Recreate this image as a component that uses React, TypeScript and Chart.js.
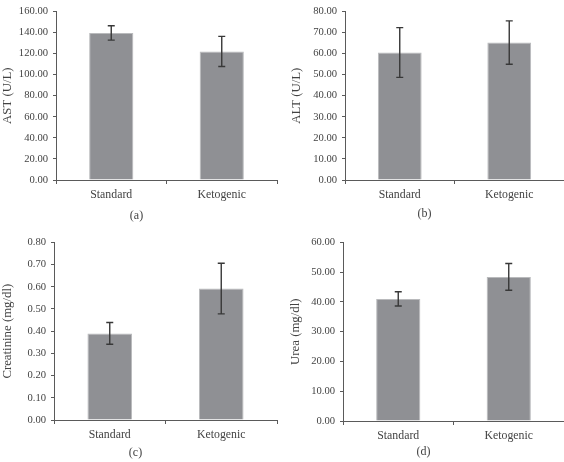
import React, { useEffect, useRef } from "react";
import { Chart, registerables } from "chart.js";

Chart.register(...registerables);

const categories = ["Standard", "Ketogenic"];

const astValues = [139.5, 122.0];
const astErrors = [6.8, 14.3];
const altValues = [60.5, 65.2];
const altErrors = [11.8, 10.3];
const creatinineValues = [0.39, 0.592];
const creatinineErrors = [0.049, 0.114];
const ureaValues = [41.0, 48.4];
const ureaErrors = [2.4, 4.5];

const astTicks = [0, 20, 40, 60, 80, 100, 120, 140, 160];
const altTicks = [0, 10, 20, 30, 40, 50, 60, 70, 80];
const creatinineTicks = [0, 0.1, 0.2, 0.3, 0.4, 0.5, 0.6, 0.7, 0.8];
const ureaTicks = [0, 10, 20, 30, 40, 50, 60];

const FONT = "'Liberation Serif', 'Times New Roman', serif";
const TEXT = "#434343";
const AXIS = "#5a5a5a";
const BAR = "#8f9094";
const BAR_EDGE = "#b9babc";
const ERR = "#383838";

type PanelCfg = {
  label: string;
  yTitle: string;
  values: number[];
  errors: number[];
  ticks: number[];
  left: number;
  top: number;
  areaLeft: number;
  areaTop: number;
  areaBottom: number;
  padRight: number;
  titlePad: number;
  labelOffset: number;
};

const W = 282;
const H = 231;

const panels: PanelCfg[] = [
  { label: "(a)", yTitle: "AST (U/L)", values: astValues, errors: astErrors, ticks: astTicks, left: 0, top: 0, areaLeft: 56, areaTop: 5, areaBottom: 180, padRight: 5, titlePad: 0, labelOffset: 36 },
  { label: "(b)", yTitle: "ALT (U/L)", values: altValues, errors: altErrors, ticks: altTicks, left: 282, top: 0, areaLeft: 63, areaTop: 5, areaBottom: 180, padRight: 0, titlePad: 7, labelOffset: 34 },
  { label: "(c)", yTitle: "Creatinine (mg/dl)", values: creatinineValues, errors: creatinineErrors, ticks: creatinineTicks, left: 0, top: 231, areaLeft: 54, areaTop: 5, areaBottom: 189, padRight: 5, titlePad: 0, labelOffset: 33 },
  { label: "(d)", yTitle: "Urea (mg/dl)", values: ureaValues, errors: ureaErrors, ticks: ureaTicks, left: 282, top: 231, areaLeft: 61, areaTop: 9, areaBottom: 190, padRight: 0, titlePad: 6, labelOffset: 31 },
];

function Panel({ cfg }: { cfg: PanelCfg }) {
  const ref = useRef<HTMLCanvasElement | null>(null);
  useEffect(() => {
    if (!ref.current) return;
    const step = cfg.ticks[1] - cfg.ticks[0];
    const errorBars = {
      id: "errorBars",
      afterDatasetsDraw(chart: any) {
        const ctx = chart.ctx;
        const meta = chart.getDatasetMeta(0);
        const y = chart.scales.y;
        ctx.save();
        ctx.strokeStyle = ERR;
        ctx.lineWidth = 1.4;
        meta.data.forEach((bar: any, i: number) => {
          const v = cfg.values[i];
          const e = cfg.errors[i];
          const yTop = y.getPixelForValue(v + e);
          const yBot = y.getPixelForValue(v - e);
          const x = bar.x;
          ctx.beginPath();
          ctx.moveTo(x, yTop);
          ctx.lineTo(x, yBot);
          ctx.moveTo(x - 3.5, yTop);
          ctx.lineTo(x + 3.5, yTop);
          ctx.moveTo(x - 3.5, yBot);
          ctx.lineTo(x + 3.5, yBot);
          ctx.stroke();
        });
        ctx.restore();
      },
    };
    const panelLabel = {
      id: "panelLabel",
      afterDraw(chart: any) {
        const ctx = chart.ctx;
        const a = chart.chartArea;
        ctx.save();
        ctx.fillStyle = TEXT;
        ctx.font = `12px ${FONT}`;
        ctx.textAlign = "center";
        ctx.textBaseline = "middle";
        ctx.fillText(cfg.label, (a.left + a.right) / 2 - 30, a.bottom + cfg.labelOffset);
        ctx.restore();
      },
    };
    const chart = new Chart(ref.current, {
      type: "bar",
      data: {
        labels: categories,
        datasets: [
          {
            data: cfg.values,
            backgroundColor: BAR,
            borderColor: BAR_EDGE,
            borderWidth: 1,
            barPercentage: 0.4,
            categoryPercentage: 1,
          },
        ],
      },
      options: {
        responsive: false,
        animation: false,
        devicePixelRatio: 1,
        layout: { padding: { top: cfg.areaTop, right: cfg.padRight, left: 0, bottom: 0 } },
        plugins: { legend: { display: false }, tooltip: { enabled: false } },
        scales: {
          x: {
            grid: { display: true, drawOnChartArea: false, drawTicks: true, tickLength: 4, color: AXIS, offset: true, lineWidth: 1 },
            border: { display: true, color: AXIS, width: 1 },
            ticks: { color: TEXT, font: { family: FONT, size: 11.8 }, padding: 4, maxRotation: 0 },
            afterFit: (s: any) => {
              s.height = H - cfg.areaBottom;
            },
          },
          y: {
            min: cfg.ticks[0],
            max: cfg.ticks[cfg.ticks.length - 1],
            grid: { display: true, drawOnChartArea: false, drawTicks: true, tickLength: 3, color: AXIS, lineWidth: 1 },
            border: { display: true, color: AXIS, width: 1 },
            ticks: {
              stepSize: step,
              color: TEXT,
              font: { family: FONT, size: 10.6 },
              padding: 5,
              callback: (v: any) => Number(v).toFixed(2),
            },
            title: {
              display: true,
              text: cfg.yTitle,
              color: TEXT,
              font: { family: FONT, size: 12.8 },
              padding: { top: cfg.titlePad, bottom: 0 },
            },
            afterFit: (s: any) => {
              s.width = cfg.areaLeft;
            },
          },
        },
      },
      plugins: [errorBars, panelLabel],
    });
    return () => chart.destroy();
  }, [cfg]);
  return (
    <canvas
      ref={ref}
      width={W}
      height={H}
      style={{ position: "absolute", left: cfg.left, top: cfg.top, width: W, height: H, display: "block" }}
    />
  );
}

export default function App() {
  return (
    <div style={{ position: "absolute", left: 0, top: 0, width: 564, height: 462, background: "#ffffff" }}>
      {panels.map((p) => (
        <Panel key={p.label} cfg={p} />
      ))}
    </div>
  );
}
